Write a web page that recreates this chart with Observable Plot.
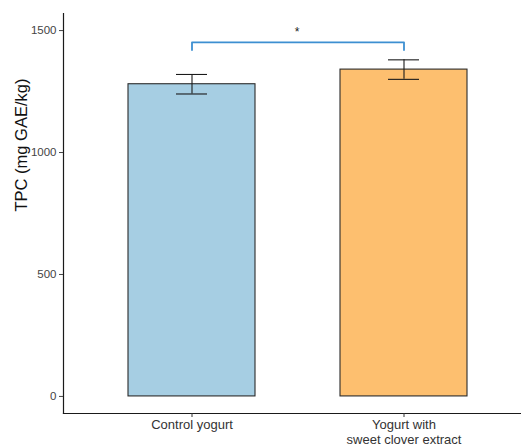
<!DOCTYPE html>
<html>
<head>
<meta charset="utf-8">
<script src="https://cdn.jsdelivr.net/npm/d3@7"></script>
<script src="https://cdn.jsdelivr.net/npm/@observablehq/plot@0.6"></script>
<style>
  html, body { margin: 0; padding: 0; background: #fff; }
  #chart svg { font-family: "Liberation Sans", Arial, sans-serif; }
</style>
</head>
<body>
<div id="chart"></div>
<script>
// Data
const groups = ["Control yogurt", "Yogurt with\nsweet clover extract"];
const means = [1280, 1340];
const errors = [40, 40];
const fills = ["#a6cee3", "#fdbf6f"];
const yTicks = [0, 500, 1000, 1500];
const yLabel = "TPC (mg GAE/kg)";
const bracketLow = 1420;
const bracketHigh = 1452;
const sigLabel = "*";
const sigY = 1492;

const rows = groups.map((g, i) => ({group: g, mean: means[i], err: errors[i]}));
const bracket = [
  {x: groups[0], y: bracketLow},
  {x: groups[0], y: bracketHigh},
  {x: groups[1], y: bracketHigh},
  {x: groups[1], y: bracketLow}
];

const chart = Plot.plot({
  width: 521,
  height: 446,
  marginLeft: 63,
  marginRight: 0,
  marginTop: 13,
  marginBottom: 33,
  style: {fontFamily: "Liberation Sans, Arial, sans-serif", background: "#fff"},
  x: {domain: groups, range: [63, 531.5], paddingInner: 0.4, paddingOuter: 0.3, align: 0.5, label: null},
  y: {domain: [-70, 1570], label: null},
  color: {domain: groups, range: fills},
  marks: [
    Plot.barY(rows, {x: "group", y: "mean", fill: "group", stroke: "#2b2b2b", strokeWidth: 1.1}),
    Plot.ruleX(rows, {x: "group", y1: d => d.mean - d.err, y2: d => d.mean + d.err, stroke: "#1a1a1a", strokeWidth: 1.1}),
    Plot.tickY(rows, {x: "group", y: d => d.mean + d.err, insetLeft: 48, insetRight: 48, stroke: "#1a1a1a", strokeWidth: 1.1}),
    Plot.tickY(rows, {x: "group", y: d => d.mean - d.err, insetLeft: 48, insetRight: 48, stroke: "#1a1a1a", strokeWidth: 1.1}),
    Plot.line(bracket, {x: "x", y: "y", stroke: "#3d8fd1", strokeWidth: 1.8, curve: "linear"}),
    Plot.text([sigLabel], {text: d => d, y: sigY, frameAnchor: "middle", dx: 4.5, fontSize: 12, fill: "#222"}),
    Plot.frame({anchor: "left", stroke: "#1a1a1a", strokeWidth: 1.2}),
    Plot.frame({anchor: "bottom", stroke: "#1a1a1a", strokeWidth: 1.2}),
    Plot.axisY({ticks: yTicks, tickFormat: d3.format("d"), tickSize: 4, tickPadding: 3, fontSize: 11.5, color: "#444", label: null}),
    Plot.axisX({tickSize: 4, tickPadding: 2, fontSize: 13, color: "#333", label: null, lineHeight: 1.08}),
    Plot.text([yLabel], {text: d => d, frameAnchor: "left", rotate: -90, dx: -42, dy: -2, fontSize: 16.5, fill: "#111"})
  ]
});
document.getElementById("chart").appendChild(chart);
</script>
</body>
</html>
